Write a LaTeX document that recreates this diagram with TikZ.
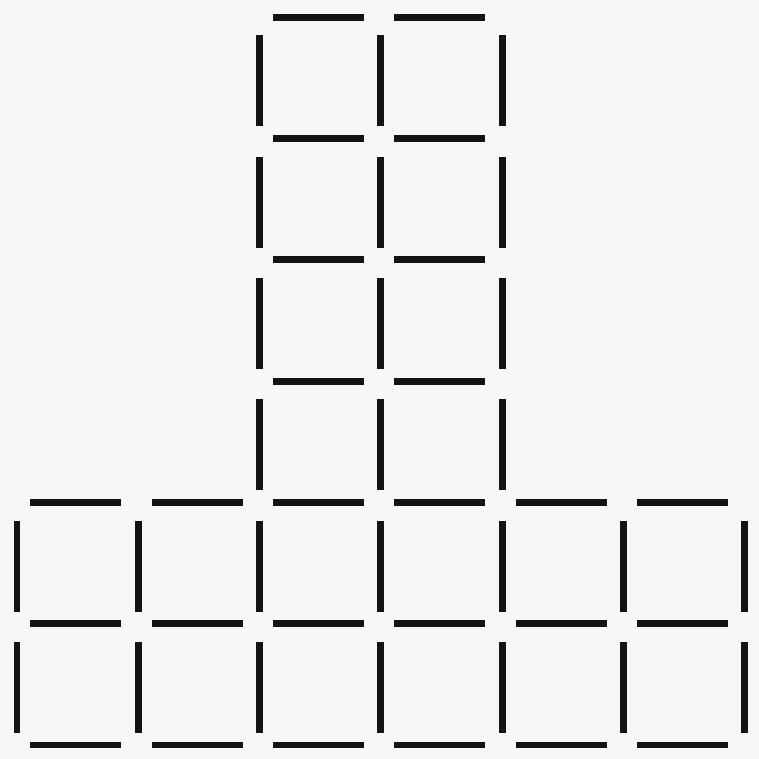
\documentclass[tikz,border=0pt]{standalone}
\usepackage{tikz}

\begin{document}
\begin{tikzpicture}[
    x=1cm, y=1cm,
    match/.style={line width=1.6pt, black!92, line cap=butt}
]
% page
\fill[black!3] (-0.14,-0.115) rectangle (6.117,6.142);
\useasboundingbox (-0.14,-0.115) rectangle (6.117,6.142);

% lower block, six squares by two
\foreach \i in {0,...,5}
    \foreach \j in {0,1,2}
        \draw[match] (\i+0.11,\j) -- (\i+0.86,\j);
\foreach \i in {0,...,6}
    \foreach \j in {0,1}
        \draw[match] (\i,\j+0.10) -- (\i,\j+0.85);

% upper block, two squares by four
\foreach \i in {2,3}
    \foreach \j in {3,...,6}
        \draw[match] (\i+0.11,\j) -- (\i+0.86,\j);
\foreach \i in {2,3,4}
    \foreach \j in {2,...,5}
        \draw[match] (\i,\j+0.10) -- (\i,\j+0.85);
\end{tikzpicture}
\end{document}
